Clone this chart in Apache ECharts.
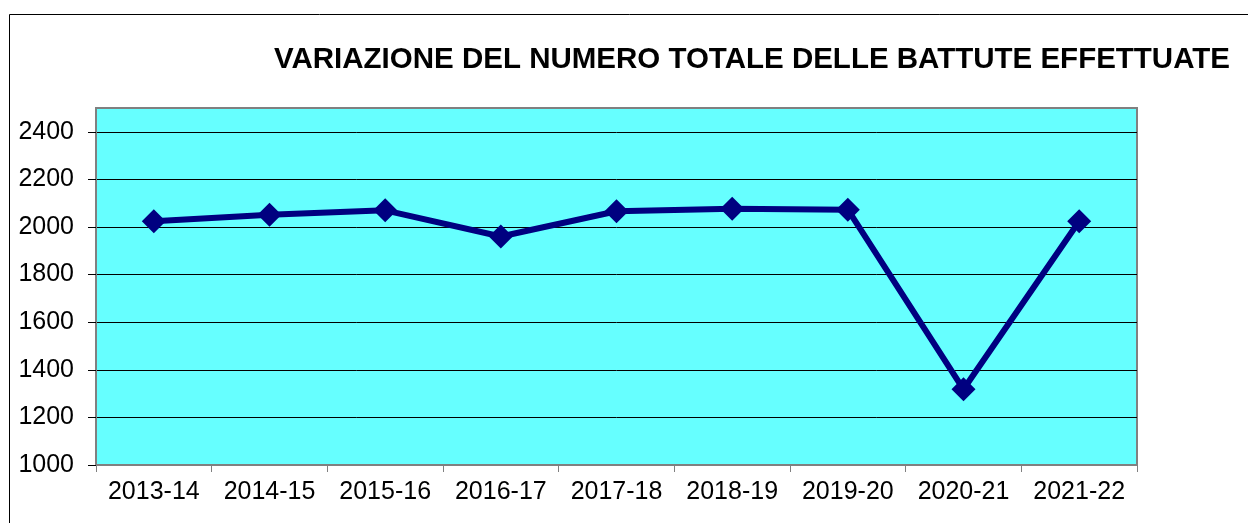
<!DOCTYPE html>
<html>
<head>
<meta charset="utf-8">
<script src="https://cdn.jsdelivr.net/npm/echarts@6/dist/echarts.min.js"></script>
<style>html,body{margin:0;padding:0;background:#fff}#c{width:1248px;height:523px}</style>
</head>
<body>
<div id="c"></div>
<script>
var categories = ['2013-14','2014-15','2015-16','2016-17','2017-18','2018-19','2019-20','2020-21','2021-22'];
var battute = [2024, 2051, 2070, 1960, 2066, 2077, 2073, 1318, 2024];
var titleText = 'VARIAZIONE DEL NUMERO TOTALE DELLE BATTUTE EFFETTUATE';

var chart = echarts.init(document.getElementById('c'), null, {renderer: 'canvas'});
chart.setOption({
  animation: false,
  backgroundColor: '#ffffff',
  graphic: [{
    type: 'rect',
    shape: {x: 9.5, y: 14.5, width: 1400, height: 700},
    style: {fill: 'none', stroke: '#000000', lineWidth: 1},
    silent: true
  }],
  title: {
    text: titleText,
    left: 269,
    top: 40,
    textStyle: {fontFamily: 'Liberation Sans, Arial, sans-serif', fontWeight: 'bold', fontSize: 29.5, color: '#000'}
  },
  grid: {
    left: 96, right: 111, top: 108, bottom: 58,
    show: true,
    backgroundColor: '#66FFFF',
    borderColor: '#808080',
    borderWidth: 2,
    containLabel: false
  },
  xAxis: {
    type: 'category',
    data: categories,
    boundaryGap: true,
    axisLine: {show: true, lineStyle: {color: '#808080', width: 2}},
    axisTick: {show: true, alignWithLabel: false, length: 7, lineStyle: {color: '#808080', width: 1}},
    axisLabel: {margin: 15, color: '#000', fontSize: 25, fontFamily: 'Liberation Sans, Arial, sans-serif', interval: 0},
    splitLine: {show: false}
  },
  yAxis: {
    type: 'value',
    min: 1000, max: 2500, interval: 200,
    axisLine: {show: true, lineStyle: {color: '#808080', width: 2}},
    axisTick: {show: true, length: 8, lineStyle: {color: '#000', width: 1}, customValues: [1000,1200,1400,1600,1800,2000,2200,2400]},
    axisLabel: {margin: 22, color: '#000', fontSize: 25, fontFamily: 'Liberation Sans, Arial, sans-serif', showMaxLabel: false,
      formatter: function (v) { return String(v); }},
    splitLine: {show: true, lineStyle: {color: '#000', width: 1}}
  },
  series: [{
    type: 'line',
    data: battute,
    symbol: 'diamond',
    symbolSize: 24,
    lineStyle: {color: '#000080', width: 6},
    itemStyle: {color: '#000080'},
    z: 5
  }]
});
</script>
</body>
</html>
